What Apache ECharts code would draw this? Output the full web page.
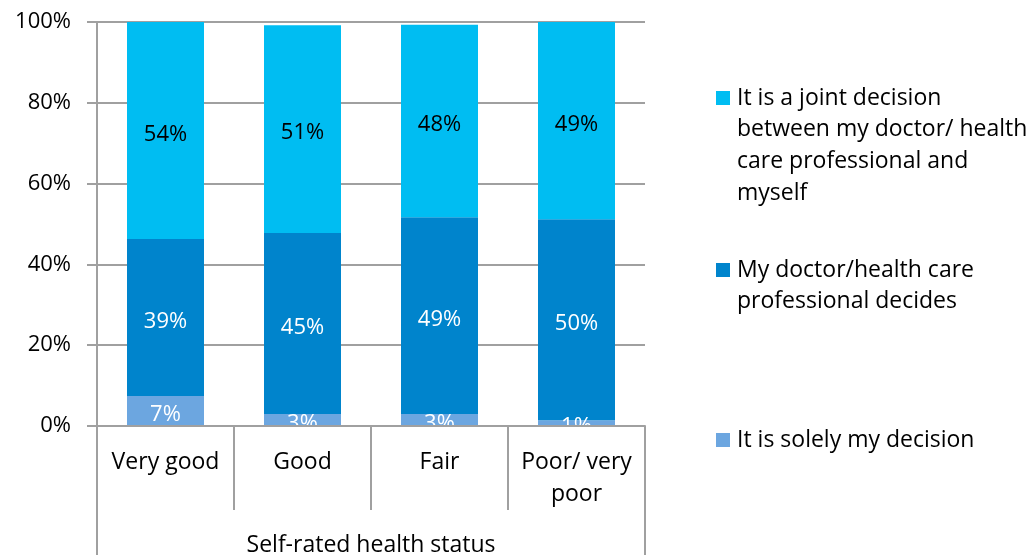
<!DOCTYPE html>
<html>
<head>
<meta charset="utf-8">
<script src="https://cdn.jsdelivr.net/npm/echarts@6/dist/echarts.min.js"></script>
<style>html,body{margin:0;padding:0;background:#fff}#c{width:1035px;height:555px}</style>
</head>
<body>
<div id="c"></div>
<script>
const categories = ['Very good', 'Good', 'Fair', 'Poor/ very\npoor'];
const groupLabel = ['Self-rated health status'];
const solely = [7.4, 3.0, 3.0, 1.4];
const doctor = [38.9, 44.8, 48.7, 49.8];
const joint = [53.7, 51.4, 47.6, 48.8];
const seriesNames = ['It is solely my decision', 'My doctor/health care professional decides', 'It is a joint decision between my doctor/ health care professional and myself'];
const legendText = {
  'It is a joint decision between my doctor/ health care professional and myself': 'It is a joint decision\nbetween my doctor/ health\ncare professional and\nmyself',
  'My doctor/health care professional decides': 'My doctor/health care\nprofessional decides',
  'It is solely my decision': 'It is solely my decision'
};
const yTicks = [0, 20, 40, 60, 80, 100];

const FONT = 'Open Sans';
const FS = 23;
const FN = 22;
const LH = 31.7;
const colors = ['#6CA6E0', '#0084CC', '#00BDF2'];
const labelColors = ['#ffffff', '#ffffff', '#000000'];
const gray = '#A0A0A0';

const chart = echarts.init(document.getElementById('c'));

function makeLegend(name, iconTop) {
  const n = legendText[name].split('\n').length;
  const total = (2 * n - 1) * LH;
  return {
    data: [name],
    orient: 'vertical',
    left: 716,
    top: iconTop + 7 - total / 2,
    padding: 0,
    itemWidth: 14,
    itemHeight: 14,
    itemGap: 0,
    selectedMode: false,
    icon: 'rect',
    formatter: (nm) => '\n'.repeat(n - 1) + legendText[nm],
    textStyle: {
      fontFamily: FONT, fontSize: FS, color: '#000', lineHeight: LH,
      padding: [0, 0, 0, 2]
    }
  };
}

const dataSets = [solely, doctor, joint];
const option = {
  animation: false,
  grid: { left: 97, right: 390, top: 22, bottom: 129, containLabel: false, outerBoundsMode: 'none' },
  legend: [
    makeLegend(seriesNames[2], 91),
    makeLegend(seriesNames[1], 263),
    makeLegend(seriesNames[0], 433)
  ],
  xAxis: [
    {
      type: 'category',
      data: categories,
      z: 10,
      axisLine: { show: true, lineStyle: { color: gray, width: 2 } },
      axisTick: { show: true, length: 84, lineStyle: { color: gray, width: 2 } },
      axisLabel: {
        interval: 0,
        margin: 2,
        fontFamily: FONT, fontSize: FS, color: '#000', lineHeight: LH,
        verticalAlign: 'top',
        backgroundColor: '#fff',
        width: 128,
        align: 'center',
        padding: [19, 0, 6, 0]
      }
    },
    {
      type: 'category',
      data: groupLabel,
      position: 'bottom',
      offset: 84,
      axisLine: { show: false },
      axisTick: { show: true, length: 50, lineStyle: { color: gray, width: 2 } },
      axisLabel: {
        margin: 23,
        fontFamily: FONT, fontSize: FS, color: '#000', lineHeight: 24,
        verticalAlign: 'top'
      }
    }
  ],
  yAxis: {
    type: 'value',
    min: 0, max: 100, interval: 20,
    axisLine: { show: true, lineStyle: { color: gray, width: 2 } },
    axisTick: { show: true, length: 10, lineStyle: { color: gray, width: 2 } },
    splitLine: { show: true, lineStyle: { color: gray, width: 2 } },
    axisLabel: {
      margin: 26,
      fontFamily: FONT, fontSize: FN, color: '#000',
      padding: [6, 0, 0, 0],
      formatter: (v) => (yTicks.includes(v) ? v + '%' : '')
    }
  },
  series: dataSets.map((d, i) => ({
    type: 'bar',
    name: seriesNames[i],
    stack: 'total',
    data: d,
    barWidth: 77,
    itemStyle: { color: colors[i] },
    label: {
      show: true,
      position: 'inside',
      offset: [0, 4],
      fontFamily: FONT, fontSize: FN, color: labelColors[i],
      formatter: (p) => Math.round(p.value) + '%'
    }
  }))
};
chart.setOption(option);
</script>
</body>
</html>
